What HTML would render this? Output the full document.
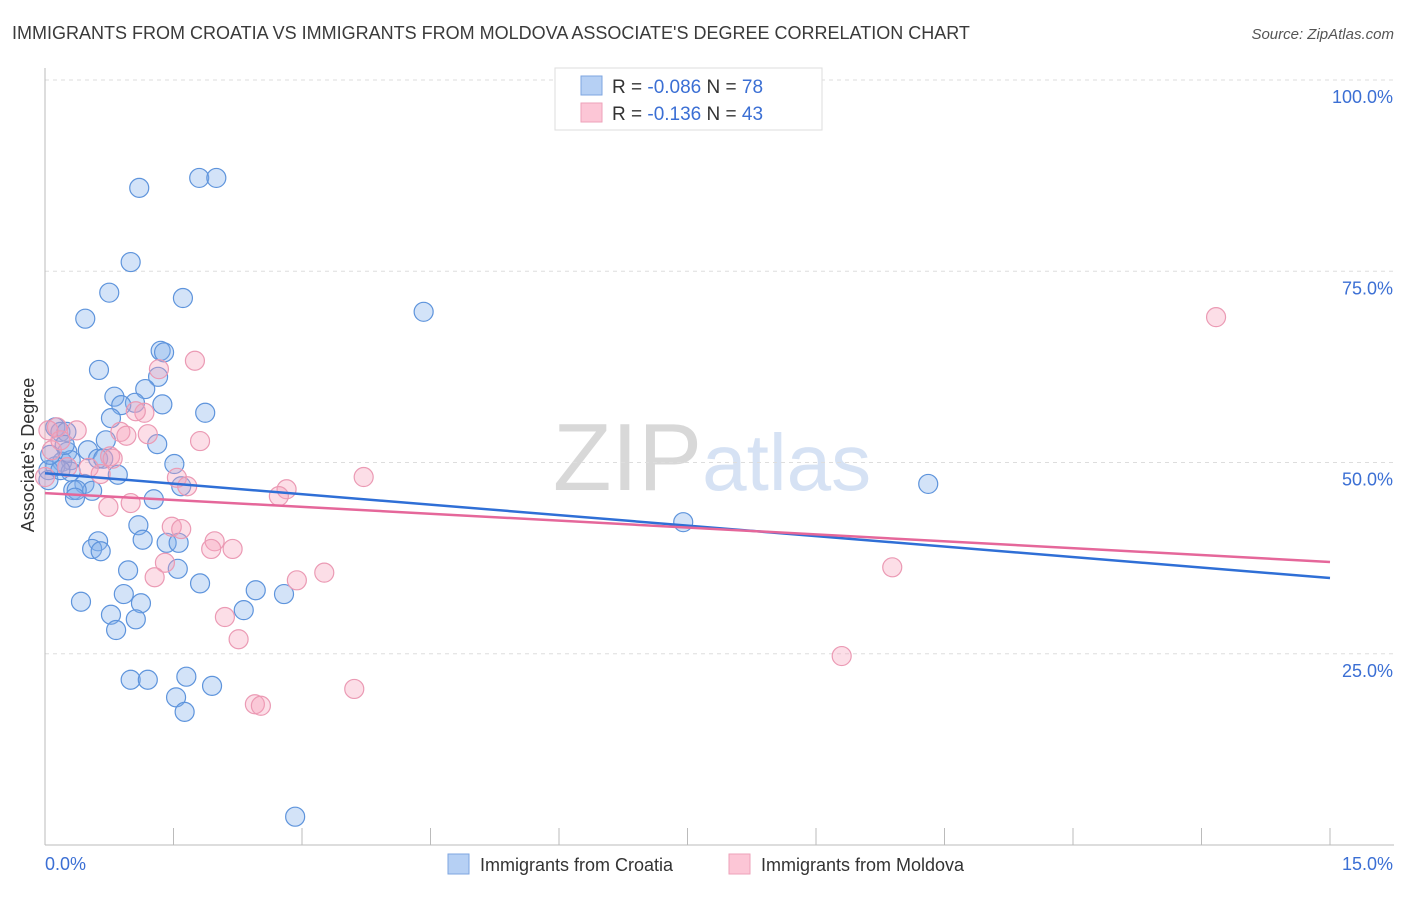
<!DOCTYPE html>
<html><head><meta charset="utf-8"><style>
body{margin:0;background:#fff;font-family:"Liberation Sans",sans-serif;}
svg text{font-family:"Liberation Sans",sans-serif;}
</style></head><body>
<svg id="chart" width="1406" height="892" xmlns="http://www.w3.org/2000/svg">
<text x="12" y="39" font-size="18" fill="#3a3a3a">IMMIGRANTS FROM CROATIA VS IMMIGRANTS FROM MOLDOVA ASSOCIATE'S DEGREE CORRELATION CHART</text>
<text x="1394" y="39" font-size="15" fill="#555" text-anchor="end" font-style="italic">Source: ZipAtlas.com</text>
<text x="712" y="490" font-size="96" fill="#e2e2e2" text-anchor="middle" font-family="Liberation Serif"><tspan fill="#d8d8d8">ZIP</tspan><tspan fill="#d6e2f4" font-family="Liberation Sans" font-size="80">atlas</tspan></text>
<g id="grid"></g>
<g id="axes"></g>
<g id="points"></g>
<g id="trends"></g>
<text transform="translate(34,455) rotate(-90)" font-size="18" fill="#333" text-anchor="middle">Associate's Degree</text>
<g>
<rect x="555" y="68" width="267" height="62" fill="#fff" stroke="#ddd"/>
<rect x="581" y="76" width="21" height="19" fill="#b6d0f4" stroke="#7ea6e0"/>
<rect x="581" y="103" width="21" height="19" fill="#fcc6d6" stroke="#eea2b9"/>
<text x="612" y="93" font-size="19" fill="#333">R = <tspan fill="#3b6fd4">-0.086</tspan>   N = <tspan fill="#3b6fd4">78</tspan></text>
<text x="612" y="120" font-size="19" fill="#333">R =  <tspan fill="#3b6fd4">-0.136</tspan>   N = <tspan fill="#3b6fd4">43</tspan></text>
</g>
<g>
<rect x="448" y="854" width="21" height="20" fill="#b6d0f4" stroke="#7ea6e0"/>
<text x="480" y="871" font-size="18" fill="#333">Immigrants from Croatia</text>
<rect x="729" y="854" width="21" height="20" fill="#fcc6d6" stroke="#eea2b9"/>
<text x="761" y="871" font-size="18" fill="#333">Immigrants from Moldova</text>
</g>
</svg>
<script>
const xTickLabels=["0.0%","15.0%"];
const yTicks=[25,50,75,100];
const yTickLabels=["25.0%","50.0%","75.0%","100.0%"];
const croatiaX=[1.10,1.80,2.00,1.00,0.75,1.61,0.47,4.42,1.35,1.39,0.63,1.32,1.17,0.81,1.05,1.37,0.89,1.87,0.77,0.12,0.18,0.25,0.71,1.31,0.50,0.26,0.62,0.68,0.20,0.30,1.51,0.12,0.04,0.30,0.85,1.59,0.46,0.33,0.55,0.37,1.27,0.35,0.04,10.31,7.45,1.09,0.62,1.14,1.42,1.56,0.55,0.65,0.97,1.55,1.81,0.92,2.46,2.79,0.42,1.12,2.32,0.77,1.06,0.83,1.65,1.00,1.20,1.53,1.95,1.63,2.92,0.18,0.06,0.23];
const croatiaY=[85.9,87.2,87.2,76.2,72.2,71.5,68.8,69.7,64.6,64.4,62.1,61.2,59.6,58.6,57.8,57.6,57.5,56.5,55.8,54.6,54.0,54.0,52.9,52.4,51.6,51.4,50.5,50.5,50.1,50.3,49.8,49.5,49.0,48.8,48.4,46.9,47.2,46.4,46.3,46.4,45.2,45.4,47.7,47.2,42.2,41.8,39.7,39.9,39.5,39.5,38.7,38.4,35.9,36.1,34.2,32.8,33.3,32.8,31.8,31.6,30.7,30.1,29.5,28.1,22.0,21.6,21.6,19.3,20.8,17.4,3.7,49.0,51.0,52.3];
const moldovaX=[13.67,1.75,1.33,0.14,0.37,1.16,1.06,0.88,0.95,1.20,1.81,0.76,0.51,0.65,0.79,1.54,1.66,3.72,2.82,2.73,0.74,1.00,1.48,1.59,1.98,1.94,2.19,1.40,1.28,2.94,3.26,9.89,2.10,2.26,9.30,3.61,2.45,2.52,0.08,0.26,0.0,0.18,0.04];
const moldovaY=[69.0,63.3,62.2,54.6,54.2,56.5,56.7,54.0,53.5,53.7,52.8,50.8,49.3,48.5,50.5,48.0,46.9,48.1,46.5,45.6,44.2,44.7,41.6,41.3,39.7,38.7,38.7,36.9,35.0,34.6,35.6,36.3,29.8,26.9,24.7,20.4,18.4,18.2,51.6,49.4,48.1,52.9,54.2];
const croatiaTrend=[48.6,34.9];
const moldovaTrend=[46.0,37.0];
const X0=45,X1=1330,Y0=845,Y100=80;
const sx=v=>X0+(v/15)*(X1-X0);
const sy=v=>Y0-(v/100)*(Y0-Y100);
const NS="http://www.w3.org/2000/svg";
function mk(tag,attrs,parent){const e=document.createElementNS(NS,tag);for(const k in attrs)e.setAttribute(k,attrs[k]);parent.appendChild(e);return e;}
const grid=document.getElementById('grid'),axes=document.getElementById('axes'),pts=document.getElementById('points'),tr=document.getElementById('trends');
yTicks.forEach((t,i)=>{
 const l=mk('line',{x1:X0,x2:1394,y1:sy(t),y2:sy(t),stroke:'#ddd','stroke-dasharray':'4,4'},grid);
 
 
 const tx=mk('text',{x:1393,y:sy(t)+23,'font-size':18,fill:'#3b6fd4','text-anchor':'end'},axes);
 tx.textContent=yTickLabels[i];
 
 
});
const al=mk('line',{x1:X0,x2:1394,y1:Y0,y2:Y0,stroke:'#bbb'},axes);


const yl=mk('line',{x1:X0,x2:X0,y1:68,y2:Y0,stroke:'#bbb'},axes);


for(let i=1;i<=10;i++){
 const t=mk('line',{x1:sx(i*1.5),x2:sx(i*1.5),y1:Y0-17,y2:Y0,stroke:'#bbb'},axes);
 
 
}
const xl0=mk('text',{x:45,y:870,'font-size':18,fill:'#3b6fd4'},axes);xl0.textContent=xTickLabels[0];


const xl1=mk('text',{x:1393,y:870,'font-size':18,fill:'#3b6fd4','text-anchor':'end'},axes);xl1.textContent=xTickLabels[1];


croatiaX.forEach((x,i)=>{
 const c=mk('circle',{cx:sx(x),cy:sy(croatiaY[i]),r:9.5,fill:'rgba(130,175,235,0.35)',stroke:'#5e94dc','stroke-width':1.2},pts);
 
 
});
moldovaX.forEach((x,i)=>{
 const c=mk('circle',{cx:sx(x),cy:sy(moldovaY[i]),r:9.5,fill:'rgba(245,160,185,0.35)',stroke:'#eb9ab4','stroke-width':1.2},pts);
 
 
});
const t1=mk('line',{x1:sx(0),y1:sy(croatiaTrend[0]),x2:sx(15),y2:sy(croatiaTrend[1]),stroke:'#2f6fd6','stroke-width':2.5},tr);


const t2=mk('line',{x1:sx(0),y1:sy(moldovaTrend[0]),x2:sx(15),y2:sy(moldovaTrend[1]),stroke:'#e5679a','stroke-width':2.5},tr);


</script>
</body></html>
